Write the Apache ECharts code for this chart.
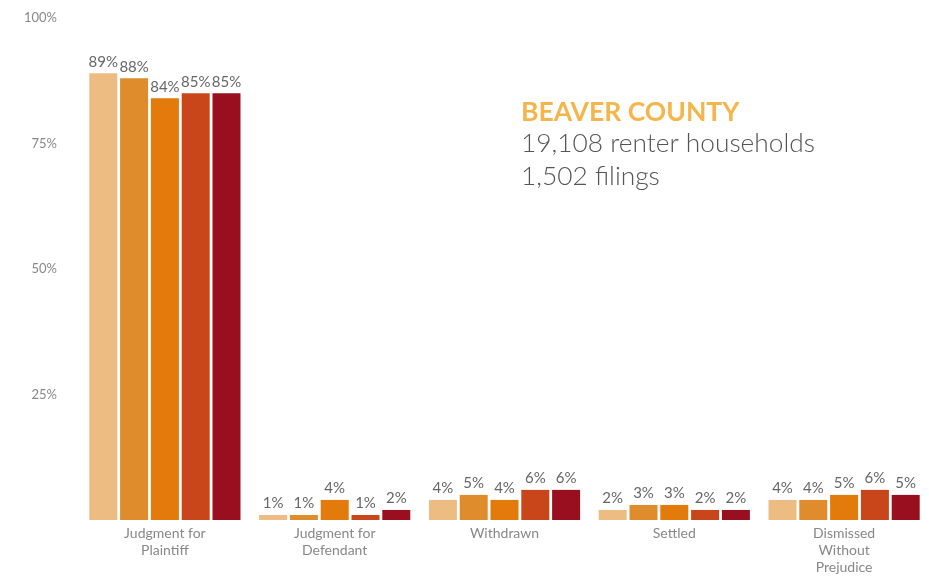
<!DOCTYPE html>
<html>
<head>
<meta charset="utf-8">
<script src="https://cdn.jsdelivr.net/npm/echarts@6/dist/echarts.min.js"></script>
<style>
  html, body { margin: 0; padding: 0; background: #ffffff; }
  #chart { width: 929px; height: 576px; }
</style>
</head>
<body>
<div id="chart"></div>
<script>
// Eviction filing outcomes, Beaver County
const categories = ['Judgment for\nPlaintiff', 'Judgment for\nDefendant', 'Withdrawn', 'Settled', 'Dismissed\nWithout\nPrejudice'];
const seriesNames = ['Year 1', 'Year 2', 'Year 3', 'Year 4', 'Year 5'];
const year1 = [89, 1, 4, 2, 4];
const year2 = [88, 1, 5, 3, 4];
const year3 = [84, 4, 4, 3, 5];
const year4 = [85, 1, 6, 2, 6];
const year5 = [85, 2, 6, 2, 5];
const seriesValues = [year1, year2, year3, year4, year5];
const colors = ['#ecbc83', '#de8c2c', '#e27a0c', '#c9461b', '#9a0f1f'];
const yTicks = [0, 25, 50, 75, 100];

const chart = echarts.init(document.getElementById('chart'));

const series = seriesValues.map((vals, i) => ({
  name: seriesNames[i],
  type: 'bar',
  data: vals,
  barWidth: 28,
  barGap: '10%',
  itemStyle: { color: colors[i] },
  label: {
    show: true,
    position: 'top',
    distance: 4,
    formatter: p => p.value + '%',
    color: '#666',
    fontFamily: 'Lato',
    fontSize: 15
  }
}));

chart.setOption({
  backgroundColor: '#ffffff',
  animation: false,
  grid: { left: 80, top: 18, width: 849, bottom: 53 },
  title: {
    text: 'BEAVER COUNTY',
    subtext: '19,108 renter households\n1,502 filings',
    left: 516,
    top: 94,
    itemGap: 1,
    textStyle: { fontFamily: 'Lato', fontWeight: 'bold', fontSize: 26.5, color: '#f6b54a' },
    subtextStyle: { fontFamily: 'Lato', fontWeight: 300, fontSize: 26.3, color: '#555', lineHeight: 33 }
  },
  xAxis: {
    type: 'category',
    data: categories,
    axisLine: { show: false },
    axisTick: { show: false },
    axisLabel: {
      color: '#888',
      fontFamily: 'Lato',
      fontSize: 14,
      lineHeight: 17,
      margin: 5
    }
  },
  yAxis: {
    type: 'value',
    min: yTicks[0],
    max: yTicks[yTicks.length - 1],
    interval: 25,
    splitLine: { show: false },
    axisLine: { show: false },
    axisTick: { show: false },
    axisLabel: {
      color: '#888',
      fontFamily: 'Lato',
      fontSize: 13,
      margin: 23,
      formatter: v => (v === 0 ? '' : v + '%')
    }
  },
  series: series
});
</script>
</body>
</html>
